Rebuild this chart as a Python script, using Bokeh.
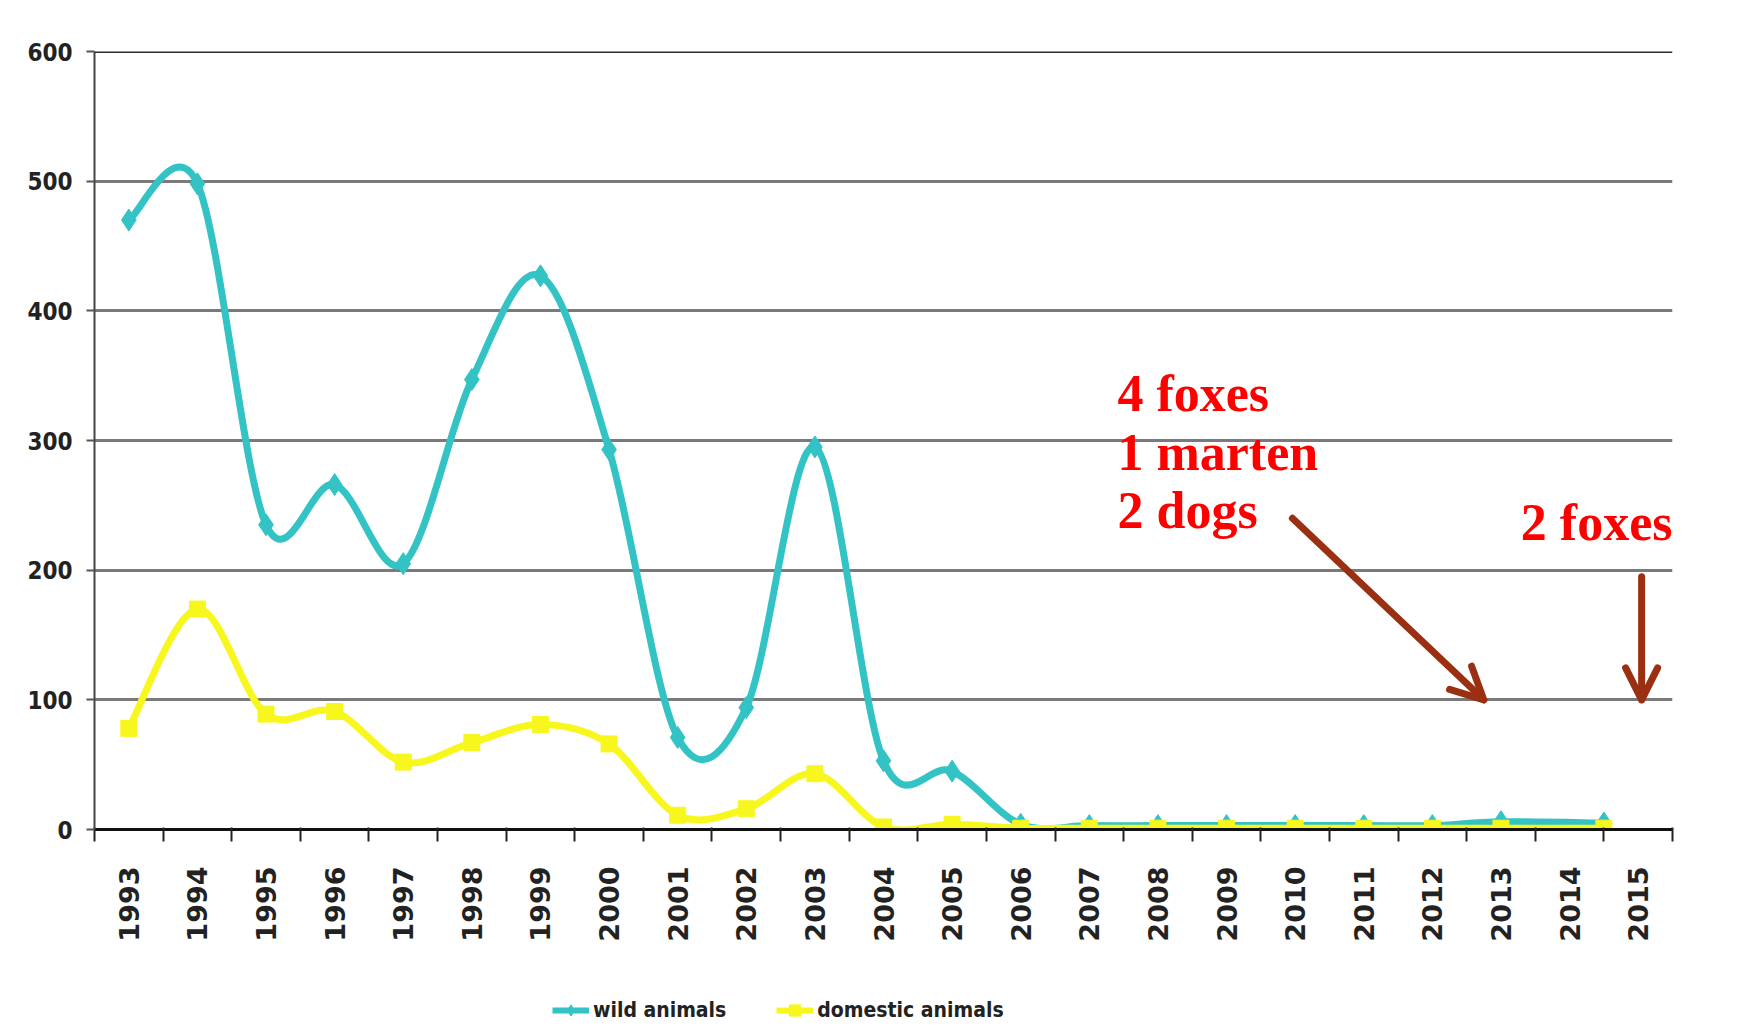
import math
from bokeh.plotting import figure
from bokeh.layouts import column
from bokeh.models import (FixedTicker, Arrow, OpenHead, Label, Legend, LegendItem,
                          Span, Range1d)
from bokeh.embed import file_html
from bokeh.resources import INLINE

# ---------------- data ----------------
years = [1993, 1994, 1995, 1996, 1997, 1998, 1999, 2000, 2001, 2002, 2003,
         2004, 2005, 2006, 2007, 2008, 2009, 2010, 2011, 2012, 2013, 2014.5]
wild = [470, 498, 235, 266, 205, 347, 427, 293, 71, 94, 295,
        53, 45, 4, 3, 3, 3, 3, 3, 3, 6, 5]
domestic = [78, 170, 89, 91, 52, 67, 81, 66, 11, 16, 43,
            2, 4, 1, 1, 1, 1, 1, 1, 1, 1, 1]
tick_years = list(range(1993, 2016))
y_ticks = [0, 100, 200, 300, 400, 500, 600]
series_names = ["wild animals", "domestic animals"]

WILD_C = "#33c3c5"
DOM_C = "#f7f71e"
ARROW_C = "#9b2f12"
COND = "DejaVu Sans Condensed, Liberation Sans Narrow, Liberation Sans"
NAN = float("nan")


def smooth(xs, ys):
    """Cubic Bezier segments (Catmull-Rom style, like Excel smoothed lines)."""
    n = len(xs)
    out = dict(x0=[], y0=[], x1=[], y1=[], cx0=[], cy0=[], cx1=[], cy1=[])
    for i in range(n - 1):
        a = i - 1 if i > 0 else i
        d = i + 2 if i + 2 < n else i + 1
        out["x0"].append(xs[i]); out["y0"].append(ys[i])
        out["x1"].append(xs[i + 1]); out["y1"].append(ys[i + 1])
        out["cx0"].append(xs[i] + (xs[i + 1] - xs[a]) / 6)
        out["cy0"].append(ys[i] + (ys[i + 1] - ys[a]) / 6)
        out["cx1"].append(xs[i + 1] - (xs[d] - xs[i]) / 6)
        out["cy1"].append(ys[i + 1] - (ys[d] - ys[i]) / 6)
    return out


MAIN_H = 962
p = figure(width=1726, height=MAIN_H, output_backend="svg", toolbar_location=None,
           x_range=Range1d(1992.5, 2015.5), y_range=Range1d(0, 600),
           min_border_left=94, min_border_right=54, min_border_top=51,
           min_border_bottom=MAIN_H - 829)
p.background_fill_color = "white"
p.border_fill_color = "white"
p.outline_line_color = None

# grid
p.xgrid.grid_line_color = None
p.ygrid.ticker = FixedTicker(ticks=y_ticks)
p.ygrid.grid_line_color = "#7a7a7a"
p.ygrid.grid_line_width = 3
p.add_layout(Span(location=600, dimension="width", line_color="#2a2a2a", line_width=3))

# x axis
xa = p.xaxis[0]
xa.ticker = FixedTicker(ticks=tick_years, minor_ticks=[y - 0.5 for y in range(1993, 2017)])
xa.major_label_overrides = {y: str(y) for y in tick_years}
xa.major_tick_line_color = None
xa.major_tick_out = 0
xa.minor_tick_line_color = "#222222"
xa.minor_tick_line_width = 2
xa.minor_tick_out = 12
xa.minor_tick_in = 2
xa.axis_line_color = "#111111"
xa.axis_line_width = 3
xa.major_label_orientation = math.pi / 2
xa.major_label_standoff = 25
xa.major_label_text_font = "DejaVu Sans"
xa.major_label_text_font_style = "bold"
xa.major_label_text_font_size = "27px"
xa.major_label_text_color = "#222222"

# y axis
ya = p.yaxis[0]
ya.ticker = FixedTicker(ticks=y_ticks)
ya.minor_tick_line_color = None
ya.major_tick_out = 8
ya.major_tick_in = 0
ya.major_tick_line_color = "#555555"
ya.major_tick_line_width = 2
ya.axis_line_color = "#444444"
ya.axis_line_width = 2
ya.major_label_standoff = 14
ya.major_label_text_font = COND
ya.major_label_text_font_style = "bold"
ya.major_label_text_font_size = "24px"
ya.major_label_text_color = "#222222"

# series
sw = smooth(years, wild)
sd = smooth(years, domestic)
p.bezier(source=sw, x0="x0", y0="y0", x1="x1", y1="y1", cx0="cx0", cy0="cy0",
         cx1="cx1", cy1="cy1", line_color=WILD_C, line_width=7)
p.scatter(years, wild, marker="diamond", size=22, color=WILD_C)
p.bezier(source=sd, x0="x0", y0="y0", x1="x1", y1="y1", cx0="cx0", cy0="cy0",
         cx1="cx1", cy1="cy1", line_color=DOM_C, line_width=7)
p.scatter(years, domestic, marker="square", size=16, color=DOM_C)

# annotations
for txt, lx, ly in [("4 foxes", 2007.41, 336), ("1 marten", 2007.41, 291),
                    ("2 dogs", 2007.41, 246), ("2 foxes", 2013.29, 237)]:
    p.add_layout(Label(x=lx, y=ly, text=txt, text_font="Liberation Serif",
                       text_font_style="bold", text_font_size="52px",
                       text_color="#ff0000", text_baseline="middle"))

for (xs_, ys_, xe_, ye_) in [(2009.96, 240, 2012.75, 100), (2015.05, 195, 2015.05, 100)]:
    p.add_layout(Arrow(x_start=xs_, y_start=ys_, x_end=xe_, y_end=ye_,
                       line_color=ARROW_C, line_width=7, line_cap="round",
                       end=OpenHead(size=32, line_color=ARROW_C, line_width=7,
                                    line_cap="round", line_join="round")))

# ---------------- legend strip below ----------------
LEG_H = 62
lf = figure(width=1726, height=LEG_H, output_backend="svg", toolbar_location=None,
            x_range=Range1d(0, 1), y_range=Range1d(0, 1),
            x_axis_type=None, y_axis_type=None,
            min_border_left=0, min_border_right=0, min_border_top=0, min_border_bottom=0)
lf.outline_line_color = None
lf.xgrid.grid_line_color = None
lf.ygrid.grid_line_color = None
lw = lf.line([NAN], [NAN], line_color=WILD_C, line_width=6)
mw = lf.scatter([NAN], [NAN], marker="diamond", size=18, color=WILD_C)
ld = lf.line([NAN], [NAN], line_color=DOM_C, line_width=6)
md = lf.scatter([NAN], [NAN], marker="square", size=15, color=DOM_C)
legend = Legend(items=[LegendItem(label=series_names[0], renderers=[lw, mw]),
                       LegendItem(label=series_names[1], renderers=[ld, md])],
                orientation="horizontal", location=(458, 0),
                border_line_color=None, background_fill_alpha=0,
                glyph_width=37, glyph_height=28, label_height=28,
                label_standoff=4, spacing=50, padding=2, margin=0,
                label_text_font=COND, label_text_font_style="bold",
                label_text_font_size="21px", label_text_color="#222222")
lf.add_layout(legend, "center")

open("out.html", "w").write(file_html(column(p, lf, spacing=0), INLINE))
